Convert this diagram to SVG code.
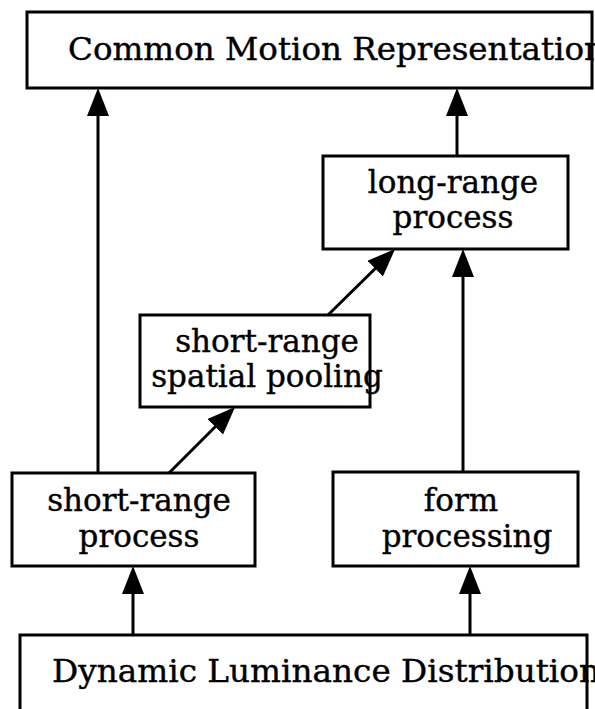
<svg xmlns="http://www.w3.org/2000/svg" width="595" height="709" viewBox="0 0 595 709">
  <style>
    .box { fill: #ffffff; stroke: #000000; stroke-width: 3; }
    .lbl { font-family: "DejaVu Serif", "Liberation Serif", serif; font-size: 31px; fill: #000000; stroke: #000000; stroke-width: 0.4; }
    .mid { text-anchor: middle; }
    .edge { fill: none; stroke: #000000; stroke-width: 3; marker-end: url(#head); }
  </style>
  <defs>
    <marker id="head" markerUnits="userSpaceOnUse" markerWidth="29" markerHeight="22" refX="18" refY="11" orient="auto">
      <path d="M0,0 L28,11 L0,22 Z" fill="#000000"/>
    </marker>
  </defs>
  <rect width="595" height="709" fill="#ffffff"/>

  <g id="common-motion">
    <rect class="box" x="27" y="12" width="565" height="76"/>
    <text class="lbl" x="68" y="60" textLength="537" lengthAdjust="spacingAndGlyphs">Common Motion Representation</text>
  </g>

  <g id="long-range">
    <rect class="box" x="323" y="156" width="245" height="93"/>
    <text class="lbl mid" x="453" y="193">long-range</text>
    <text class="lbl mid" x="453" y="228">process</text>
  </g>

  <g id="spatial-pooling">
    <rect class="box" x="140" y="315" width="230" height="92"/>
    <text class="lbl mid" x="267" y="352">short-range</text>
    <text class="lbl mid" x="267" y="387">spatial pooling</text>
  </g>

  <g id="short-range">
    <rect class="box" x="12" y="473" width="243" height="93"/>
    <text class="lbl mid" x="139" y="511">short-range</text>
    <text class="lbl mid" x="139" y="547">process</text>
  </g>

  <g id="form-processing">
    <rect class="box" x="333" y="472" width="245" height="94"/>
    <text class="lbl mid" x="461" y="511">form</text>
    <text class="lbl mid" x="467" y="547">processing</text>
  </g>

  <g id="luminance">
    <rect class="box" x="20" y="635" width="567" height="90"/>
    <text class="lbl" x="52" y="682" textLength="548" lengthAdjust="spacingAndGlyphs">Dynamic Luminance Distribution</text>
  </g>

  <g id="connectors">
    <path class="edge" d="M98,473 L98,98"/>
    <path class="edge" d="M457,156 L457,98"/>
    <path class="edge" d="M463,472 L463,259"/>
    <path class="edge" d="M328,315 L388,256"/>
    <path class="edge" d="M169,473 L228,414"/>
    <path class="edge" d="M133,635 L133,576"/>
    <path class="edge" d="M470,635 L470,576"/>
  </g>
</svg>
